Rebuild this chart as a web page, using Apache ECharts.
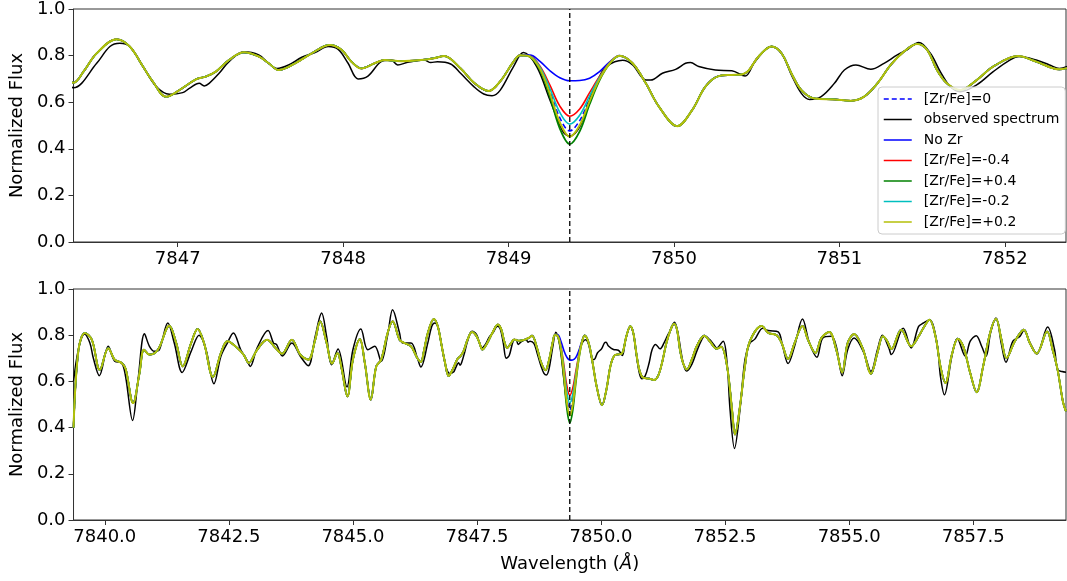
<!DOCTYPE html>
<html>
<head>
<meta charset="utf-8">
<script src="https://cdn.jsdelivr.net/npm/echarts@6/dist/echarts.min.js"></script>
<style>
  html, body { margin: 0; padding: 0; background: #ffffff; }
  #chart { width: 1067px; height: 581px; }
</style>
</head>
<body>
<div id="chart"></div>
<script>
// Zr I line position and the two wavelength windows (Å)
const zrLine = 7849.37;
const topRange = [7846.37, 7852.37];
const bottomRange = [7839.37, 7859.37];
const topTicks = [7847, 7848, 7849, 7850, 7851, 7852];
const bottomTicks = [7840, 7842.5, 7845, 7847.5, 7850, 7852.5, 7855, 7857.5];

// observed spectrum
const obsWl = [
  7839.37, 7839.47, 7839.59, 7839.70, 7839.77, 7839.89, 7840.07, 7840.20, 7840.34, 7840.42,
  7840.56, 7840.67, 7840.80, 7840.90, 7841.00, 7841.10, 7841.27, 7841.40, 7841.56, 7841.74,
  7841.90, 7842.04, 7842.20, 7842.34, 7842.47, 7842.59, 7842.74, 7842.87, 7842.93, 7843.07,
  7843.29, 7843.40, 7843.46, 7843.58, 7843.77, 7843.94, 7844.10, 7844.24, 7844.37, 7844.47,
  7844.57, 7844.70, 7844.88, 7845.00, 7845.16, 7845.30, 7845.44, 7845.57, 7845.70, 7845.80,
  7845.94, 7846.00, 7846.17, 7846.30, 7846.37, 7846.51, 7846.59, 7846.65, 7846.71, 7846.79,
  7846.87, 7846.95, 7847.03, 7847.07, 7847.13, 7847.16, 7847.19, 7847.25, 7847.31, 7847.40,
  7847.49, 7847.55, 7847.60, 7847.67, 7847.75, 7847.83, 7847.91, 7847.97, 7848.03, 7848.09,
  7848.15, 7848.23, 7848.29, 7848.33, 7848.39, 7848.49, 7848.53, 7848.57, 7848.65, 7848.71,
  7848.79, 7848.85, 7848.90, 7848.95, 7849.03, 7849.09, 7849.17, 7849.25, 7849.33, 7849.37,
  7849.43, 7849.49, 7849.55, 7849.59, 7849.69, 7849.75, 7849.83, 7849.86, 7849.93, 7850.01,
  7850.07, 7850.10, 7850.15, 7850.25, 7850.35, 7850.43, 7850.49, 7850.59, 7850.65, 7850.71,
  7850.77, 7850.82, 7850.89, 7850.97, 7851.03, 7851.10, 7851.19, 7851.27, 7851.35, 7851.41,
  7851.48, 7851.55, 7851.61, 7851.67, 7851.73, 7851.83, 7851.93, 7852.03, 7852.09, 7852.19,
  7852.27, 7852.33, 7852.46, 7852.54, 7852.60, 7852.69, 7852.80, 7852.90, 7853.00, 7853.10,
  7853.26, 7853.37, 7853.57, 7853.66, 7853.77, 7853.90, 7854.06, 7854.20, 7854.35, 7854.47,
  7854.64, 7854.74, 7854.86, 7854.97, 7855.10, 7855.30, 7855.44, 7855.57, 7855.67, 7855.80,
  7855.85, 7856.09, 7856.25, 7856.40, 7856.50, 7856.62, 7856.77, 7856.84, 7856.92, 7857.07,
  7857.18, 7857.34, 7857.44, 7857.56, 7857.67, 7857.76, 7857.85, 7857.96, 7858.07, 7858.16,
  7858.30, 7858.44, 7858.52, 7858.64, 7858.78, 7859.00, 7859.14, 7859.20, 7859.29, 7859.37
];
const obsFlux = [
  0.600, 0.740, 0.805, 0.766, 0.700, 0.625, 0.752, 0.687, 0.680, 0.620,
  0.431, 0.607, 0.806, 0.752, 0.730, 0.737, 0.853, 0.766, 0.639, 0.730,
  0.800, 0.737, 0.590, 0.709, 0.766, 0.810, 0.737, 0.690, 0.665, 0.745,
  0.820, 0.766, 0.760, 0.710, 0.766, 0.709, 0.668, 0.795, 0.896, 0.795,
  0.672, 0.740, 0.576, 0.737, 0.827, 0.737, 0.752, 0.687, 0.800, 0.910,
  0.810, 0.766, 0.766, 0.700, 0.662, 0.767, 0.839, 0.853, 0.839, 0.753,
  0.667, 0.634, 0.641, 0.659, 0.681, 0.670, 0.681, 0.724, 0.774, 0.817,
  0.803, 0.767, 0.745, 0.760, 0.793, 0.813, 0.839, 0.827, 0.767, 0.700,
  0.712, 0.774, 0.781, 0.760, 0.771, 0.781, 0.770, 0.774, 0.764, 0.724,
  0.667, 0.635, 0.628, 0.652, 0.753, 0.813, 0.753, 0.610, 0.473, 0.455,
  0.494, 0.610, 0.710, 0.753, 0.780, 0.760, 0.695, 0.695, 0.724, 0.741,
  0.767, 0.770, 0.753, 0.738, 0.735, 0.712, 0.774, 0.839, 0.810, 0.717,
  0.638, 0.612, 0.624, 0.681, 0.738, 0.760, 0.741, 0.767, 0.803, 0.825,
  0.856, 0.810, 0.731, 0.667, 0.645, 0.674, 0.731, 0.781, 0.796, 0.781,
  0.760, 0.745, 0.774, 0.680, 0.478, 0.310, 0.478, 0.694, 0.766, 0.783,
  0.830, 0.820, 0.814, 0.752, 0.677, 0.752, 0.870, 0.766, 0.705, 0.788,
  0.795, 0.752, 0.625, 0.737, 0.788, 0.723, 0.643, 0.737, 0.800, 0.745,
  0.716, 0.830, 0.745, 0.838, 0.853, 0.867, 0.766, 0.622, 0.542, 0.709,
  0.785, 0.709, 0.774, 0.798, 0.752, 0.709, 0.810, 0.874, 0.759, 0.683,
  0.774, 0.795, 0.820, 0.770, 0.720, 0.835, 0.737, 0.651, 0.643, 0.640
];

// synthetic spectrum away from the Zr line (shared by every model)
const synWl = [
  7839.37, 7839.47, 7839.60, 7839.74, 7839.90, 7840.07, 7840.20, 7840.34, 7840.42, 7840.57,
  7840.70, 7840.79, 7840.90, 7841.07, 7841.30, 7841.44, 7841.57, 7841.74, 7841.87, 7842.00,
  7842.18, 7842.34, 7842.47, 7842.67, 7842.80, 7842.90, 7843.07, 7843.27, 7843.44, 7843.57,
  7843.77, 7843.94, 7844.10, 7844.24, 7844.34, 7844.47, 7844.58, 7844.69, 7844.77, 7844.89,
  7845.00, 7845.14, 7845.24, 7845.36, 7845.47, 7845.57, 7845.70, 7845.80, 7845.94, 7846.04,
  7846.17, 7846.30, 7846.37, 7846.43, 7846.51, 7846.63, 7846.71, 7846.79, 7846.85, 7846.93,
  7847.01, 7847.11, 7847.17, 7847.23, 7847.31, 7847.40, 7847.49, 7847.55, 7847.61, 7847.71,
  7847.81, 7847.92, 7847.99, 7848.05, 7848.11, 7848.19, 7848.25, 7848.35, 7848.47, 7848.55,
  7848.61, 7848.71, 7848.79, 7848.88, 7848.95, 7849.03,
  7849.75, 7849.83, 7849.91, 7850.02, 7850.11, 7850.19, 7850.27, 7850.35, 7850.41, 7850.45,
  7850.51, 7850.59, 7850.65, 7850.71, 7850.77, 7850.85, 7850.97, 7851.07, 7851.15, 7851.23,
  7851.31, 7851.39, 7851.47, 7851.53, 7851.59, 7851.65, 7851.73, 7851.83, 7851.93, 7852.08,
  7852.19, 7852.33, 7852.42, 7852.54, 7852.64, 7852.70, 7852.80, 7852.90, 7853.00, 7853.24,
  7853.37, 7853.54, 7853.64, 7853.77, 7853.90, 7854.06, 7854.17, 7854.32, 7854.44, 7854.60,
  7854.74, 7854.86, 7854.97, 7855.10, 7855.27, 7855.44, 7855.57, 7855.68, 7855.77, 7855.85,
  7856.05, 7856.25, 7856.40, 7856.52, 7856.62, 7856.74, 7856.84, 7856.94, 7857.07, 7857.19,
  7857.30, 7857.44, 7857.57, 7857.70, 7857.84, 7857.96, 7858.07, 7858.17, 7858.34, 7858.52,
  7858.64, 7858.78, 7858.99, 7859.10, 7859.20, 7859.31, 7859.37
];
const synFlux = [
  0.400, 0.737, 0.810, 0.780, 0.650, 0.744, 0.694, 0.680, 0.655, 0.506,
  0.636, 0.737, 0.716, 0.737, 0.841, 0.766, 0.665, 0.766, 0.827, 0.766,
  0.619, 0.723, 0.774, 0.745, 0.715, 0.680, 0.737, 0.780, 0.745, 0.720,
  0.780, 0.716, 0.694, 0.780, 0.860, 0.766, 0.677, 0.723, 0.658, 0.535,
  0.694, 0.783, 0.680, 0.521, 0.665, 0.694, 0.810, 0.860, 0.780, 0.766,
  0.752, 0.700, 0.684, 0.731, 0.810, 0.870, 0.839, 0.753, 0.688, 0.623,
  0.652, 0.698, 0.710, 0.731, 0.781, 0.814, 0.796, 0.767, 0.738, 0.767,
  0.810, 0.846, 0.825, 0.774, 0.745, 0.767, 0.781, 0.776, 0.781, 0.789,
  0.798, 0.745, 0.684, 0.648, 0.690, 0.774,
  0.767, 0.681, 0.580, 0.497, 0.566, 0.667, 0.712, 0.717, 0.719, 0.735,
  0.795, 0.839, 0.810, 0.724, 0.652, 0.616, 0.612, 0.606, 0.624, 0.681,
  0.760, 0.817, 0.850, 0.825, 0.738, 0.681, 0.652, 0.695, 0.753, 0.798,
  0.774, 0.741, 0.750, 0.665, 0.478, 0.370, 0.492, 0.665, 0.774, 0.840,
  0.810, 0.800, 0.766, 0.697, 0.766, 0.840, 0.780, 0.723, 0.788, 0.814,
  0.737, 0.639, 0.766, 0.805, 0.745, 0.633, 0.723, 0.795, 0.774, 0.740,
  0.824, 0.752, 0.795, 0.840, 0.867, 0.795, 0.665, 0.593, 0.716, 0.785,
  0.752, 0.636, 0.553, 0.665, 0.810, 0.871, 0.780, 0.701, 0.774, 0.824,
  0.766, 0.720, 0.816, 0.737, 0.651, 0.510, 0.470
];

// profiles across the Zr line for each abundance
const lineWl = [7849.07, 7849.13, 7849.19, 7849.25, 7849.31, 7849.37, 7849.43, 7849.49, 7849.55, 7849.61, 7849.67];
const fluxNoZr   = [0.802, 0.802, 0.775, 0.735, 0.705, 0.692, 0.693, 0.703, 0.731, 0.772, 0.800];
const fluxM04    = [0.801, 0.798, 0.754, 0.673, 0.583, 0.540, 0.571, 0.641, 0.710, 0.768, 0.799];
const fluxM02    = [0.801, 0.797, 0.750, 0.659, 0.556, 0.506, 0.544, 0.627, 0.706, 0.767, 0.799];
const fluxZero   = [0.801, 0.796, 0.746, 0.647, 0.533, 0.477, 0.521, 0.615, 0.702, 0.766, 0.799];
const fluxP02    = [0.801, 0.795, 0.743, 0.637, 0.513, 0.452, 0.501, 0.605, 0.699, 0.765, 0.799];
const fluxP04    = [0.801, 0.794, 0.738, 0.623, 0.487, 0.420, 0.475, 0.591, 0.694, 0.764, 0.799];

const FONT = 'DejaVu Sans';
const AXIS_COLOR = '#333333';

function pairs(xs, ys) { return xs.map((x, i) => [x, ys[i]]); }

function model(lineFlux) {
  const lo = lineWl[0], hi = lineWl[lineWl.length - 1];
  const before = [], after = [];
  synWl.forEach((x, i) => {
    if (x < lo) before.push([x, synFlux[i]]);
    else if (x > hi) after.push([x, synFlux[i]]);
  });
  return before.concat(pairs(lineWl, lineFlux), after);
}

const curves = [
  { name: '[Zr/Fe]=0', color: '#0000ff', type: [5, 3], width: 1.6, data: model(fluxZero) },
  { name: 'observed spectrum', color: '#000000', type: 'solid', width: 1.5, data: pairs(obsWl, obsFlux) },
  { name: 'No Zr', color: '#0000ff', type: 'solid', width: 1.6, data: model(fluxNoZr) },
  { name: '[Zr/Fe]=-0.4', color: '#ff0000', type: 'solid', width: 1.6, data: model(fluxM04) },
  { name: '[Zr/Fe]=+0.4', color: '#008000', type: 'solid', width: 1.8, data: model(fluxP04) },
  { name: '[Zr/Fe]=-0.2', color: '#00bfbf', type: 'solid', width: 1.6, data: model(fluxM02) },
  { name: '[Zr/Fe]=+0.2', color: '#b4bf08', type: 'solid', width: 2.0, data: model(fluxP02) }
];

const series = [];
[0, 1].forEach(g => {
  curves.forEach(c => {
    series.push({
      type: 'line', name: c.name, xAxisIndex: g, yAxisIndex: g,
      data: c.data, symbol: 'circle', symbolSize: 0, showSymbol: false, smooth: 0.35,
      clip: true, silent: true,
      color: c.color,
      lineStyle: { color: c.color, width: c.width, type: c.type }
    });
  });
  series.push({
    type: 'line', xAxisIndex: g, yAxisIndex: g,
    data: [[zrLine, 0], [zrLine, 1]], symbol: 'none', silent: true, z: 5,
    lineStyle: { color: '#000000', width: 1.3, type: [5, 3] }
  });
});

function xAxis(g, range, ticks, fmt, withName) {
  const ax = {
    type: 'value', gridIndex: g, min: range[0], max: range[1],
    axisLine: { show: true, onZero: false, lineStyle: { color: AXIS_COLOR, width: 1 } },
    axisTick: { show: true, length: 5, customValues: ticks, lineStyle: { color: AXIS_COLOR } },
    axisLabel: { customValues: ticks, formatter: fmt, margin: 8, fontFamily: FONT, fontSize: 18, color: '#000' },
    splitLine: { show: false }
  };
  if (withName) {
    ax.name = 'Wavelength ({i|Å})';
    ax.nameLocation = 'middle';
    ax.nameGap = 35;
    ax.nameTextStyle = { fontFamily: FONT, fontSize: 18, color: '#000',
      rich: { i: { fontFamily: FONT, fontSize: 18, fontStyle: 'italic', color: '#000' } } };
  }
  return ax;
}

function yAxis(g) {
  return {
    type: 'value', gridIndex: g, min: 0, max: 1, interval: 0.2,
    name: 'Normalized Flux', nameLocation: 'middle', nameGap: 42,
    nameTextStyle: { fontFamily: FONT, fontSize: 18, color: '#000' },
    axisLine: { show: true, lineStyle: { color: AXIS_COLOR, width: 1 } },
    axisTick: { show: true, length: 5, lineStyle: { color: AXIS_COLOR } },
    axisLabel: { formatter: v => v.toFixed(1), margin: 8, fontFamily: FONT, fontSize: 18, color: '#000' },
    splitLine: { show: false }
  };
}

const chart = echarts.init(document.getElementById('chart'), null, { renderer: 'canvas' });
chart.setOption({
  animation: false,
  backgroundColor: '#ffffff',
  grid: [
    { left: 70, right: 1, top: 9, height: 233, show: true, borderColor: AXIS_COLOR, borderWidth: 1, backgroundColor: 'transparent' },
    { left: 70, right: 1, top: 289, height: 231, show: true, borderColor: AXIS_COLOR, borderWidth: 1, backgroundColor: 'transparent' }
  ],
  xAxis: [
    xAxis(0, topRange, topTicks, v => String(Math.round(v)), false),
    xAxis(1, bottomRange, bottomTicks, v => v.toFixed(1), true)
  ],
  yAxis: [yAxis(0), yAxis(1)],
  legend: {
    data: curves.map(c => c.name),
    orient: 'vertical', left: 878, top: 87,
    itemWidth: 28, itemHeight: 14, itemGap: 6.5,
    padding: [5, 6, 5, 5],
    backgroundColor: 'rgba(255,255,255,0.8)', borderColor: '#cccccc', borderWidth: 1, borderRadius: 4,
    selectedMode: false,
    itemStyle: { opacity: 0 },
    lineStyle: { width: 1.5 },
    textStyle: { fontFamily: FONT, fontSize: 14, color: '#000', padding: [0, 0, 0, 7] }
  },
  series: series
});
</script>
</body>
</html>
